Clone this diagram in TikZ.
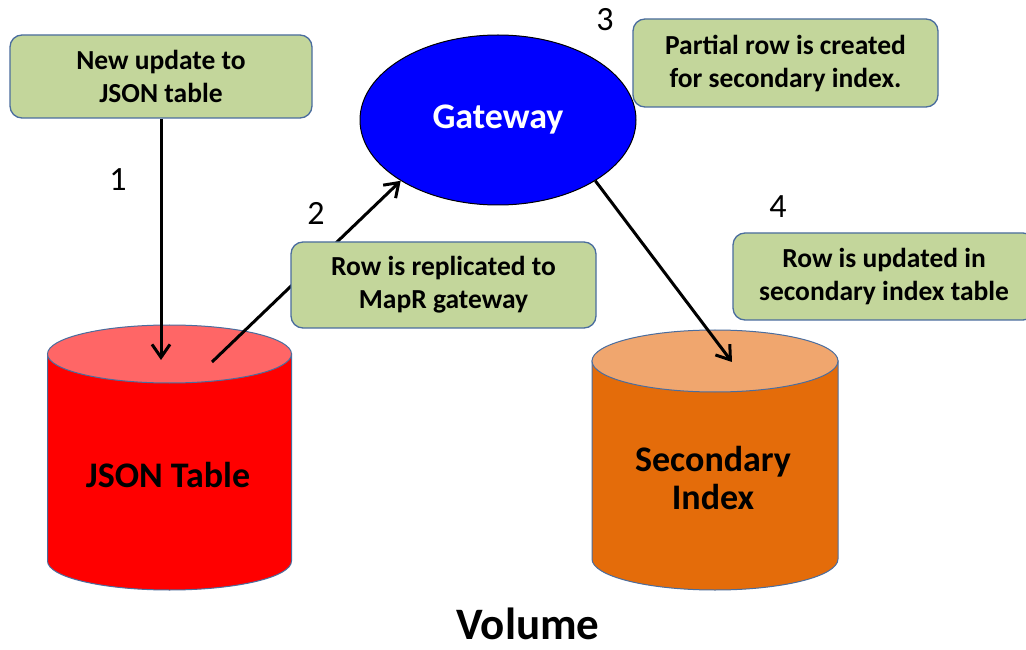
\documentclass[tikz,border=0pt]{standalone}
\usepackage{fontspec}
\setmainfont{Carlito}
\usetikzlibrary{arrows.meta,shapes.geometric}
\definecolor{notegreen}{HTML}{C3D69B}
\definecolor{noteline}{HTML}{4A6D9E}
\definecolor{jsonred}{HTML}{FF0000}
\definecolor{jsontop}{HTML}{FF6666}
\definecolor{idxorange}{HTML}{E46C0A}
\definecolor{idxtop}{HTML}{F0A66E}
\definecolor{gateblue}{HTML}{0000FF}
\tikzset{
  note/.style={draw=noteline, line width=1.3pt, fill=notegreen, rounded corners=12pt,
    align=center, inner sep=0pt, font=\bfseries\fontsize{27.5}{33}\selectfont},
  num/.style={font=\fontsize{34}{40}\selectfont},
  drum/.style={draw=noteline, line width=1pt},
  drumtext/.style={align=center, font=\bfseries\fontsize{36}{38}\selectfont},
  flow/.style={line width=3pt, -{Straight Barb[length=13pt,width=18pt]}},
}
\begin{document}
\begin{tikzpicture}[x=1pt,y=1pt]
  \clip (0,0) rectangle (1026,649);
  \fill[white] (0,0) rectangle (1026,649);
  % Cylinders
  \filldraw[drum, fill=jsonred] (47.5,295) -- (47.5,88)
    arc[start angle=180, end angle=360, x radius=122, y radius=29] -- (291.5,295) -- cycle;
  \filldraw[drum, fill=jsontop] (169.5,295) ellipse [x radius=122, y radius=29];
  \node[drumtext] (json) at (168,174) {JSON Table};
  \filldraw[drum, fill=idxorange] (592,288) -- (592,90)
    arc[start angle=180, end angle=360, x radius=123, y radius=31] -- (838,288) -- cycle;
  \filldraw[drum, fill=idxtop] (715,288) ellipse [x radius=123, y radius=31];
  \node[drumtext] (index) at (713,171) {Secondary\\Index};
  % Gateway
  \node[ellipse, draw=black, line width=1pt, fill=gateblue, minimum width=276pt,
    minimum height=170pt, inner sep=0pt, text=white,
    font=\bfseries\fontsize{36}{40}\selectfont] (gateway) at (498,529) {Gateway};
  % Notes and arrows
  \node[note, minimum width=302pt, minimum height=83pt] (update) at (161,572.5)
    {New update to\\JSON table};
  \coordinate (jsonin) at (161,289);
  \draw[flow] (update.south) -- (jsonin);
  \coordinate (jsonout) at (212,287);
  \draw[flow] (jsonout) -- (gateway.212);
  \node[note, minimum width=305pt, minimum height=86pt] (replicate) at (443.5,364)
    {Row is replicated to\\MapR gateway};
  \coordinate (indexin) at (732,287);
  \draw[flow] (gateway.-32) -- (indexin);
  \node[note, minimum width=305pt, minimum height=88pt] (partial) at (785.5,586)
    {Partial row is created\\for secondary index.};
  \node[note, minimum width=302pt, minimum height=87pt] (updated) at (884,372.5)
    {Row is updated in\\secondary index table};
  % Step numbers
  \node[num] (one) at (118,469) {1};
  \node[num] (two) at (316,436) {2};
  \node[num] (three) at (605,629) {3};
  \node[num] (four) at (778,442) {4};
  % Caption
  \node[font=\bfseries\fontsize{45}{50}\selectfont, inner sep=0pt] (volume) at (528,25) {Volume};
\end{tikzpicture}
\end{document}
